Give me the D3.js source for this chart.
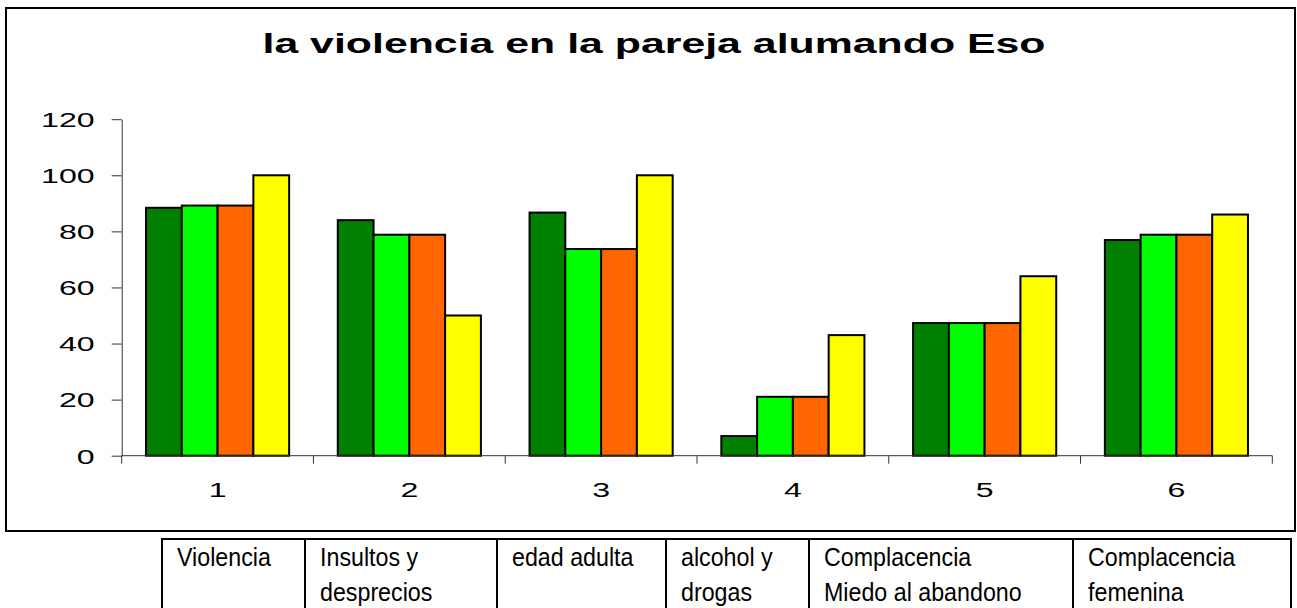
<!DOCTYPE html>
<html>
<head>
<meta charset="utf-8">
<script src="https://cdnjs.cloudflare.com/ajax/libs/d3/7.8.5/d3.min.js"></script>
<style>
    body { margin: 0; background: #ffffff; }
    svg { display: block; font-family: "Liberation Sans", Arial, sans-serif; }
</style>
</head>
<body>
<div id="chart"></div>
<script>
// data
var categories = ["1", "2", "3", "4", "5", "6"];
var seriesNames = ["serie1", "serie2", "serie3", "serie4"];
var serie1 = [88.4, 84.0, 86.7, 7.0, 47.3, 76.9];
var serie2 = [89.2, 78.8, 73.7, 21.0, 47.3, 78.8];
var serie3 = [89.2, 78.8, 73.7, 21.0, 47.3, 78.8];
var serie4 = [100, 50, 100, 43, 64, 86];
var yTicks = [0, 20, 40, 60, 80, 100, 120];
var tableLabels = [
    ["Violencia"],
    ["Insultos y", "desprecios"],
    ["edad adulta"],
    ["alcohol y", "drogas"],
    ["Complacencia", "Miedo al abandono"],
    ["Complacencia", "femenina"]
];
var titleText = "la violencia en la pareja alumando Eso";

// layout
var width = 1297, height = 608;
var plot = { left: 121.7, right: 1272.3, top: 119.2, bottom: 455.7 };
var stretch = 1.53; // chart text is drawn wide
var colors = ["#008000", "#00ff00", "#ff6600", "#ffff00"];
var tableEdges = [162, 305, 497, 666, 809, 1073, 1291];

var svg = d3.select("#chart")
    .append("svg")
    .attr("width", width)
    .attr("height", height);

// chart frame
svg.append("rect")
    .attr("x", 6)
    .attr("y", 8)
    .attr("width", 1289)
    .attr("height", 523)
    .attr("fill", "none")
    .attr("stroke", "#000")
    .attr("stroke-width", 2);

// title
svg.append("g")
    .attr("transform", "translate(654,53) scale(" + stretch + ",1)")
    .append("text")
    .attr("text-anchor", "middle")
    .style("font-size", "28px")
    .style("font-weight", "bold")
    .text(titleText);

var x = d3.scaleBand()
    .domain(categories)
    .range([plot.left, plot.right])
    .paddingInner(0)
    .paddingOuter(0);

var xSub = d3.scaleBand()
    .domain(seriesNames)
    .range([0, x.bandwidth()])
    .paddingInner(0)
    .paddingOuter(0.68);

var y = d3.scaleLinear()
    .domain([0, 120])
    .range([plot.bottom, plot.top]);

var rows = categories.map(function(c, i) {
    return {
        cat: c,
        values: [serie1[i], serie2[i], serie3[i], serie4[i]]
    };
});

// bars
var groups = svg.selectAll("g.cat")
    .data(rows)
    .enter()
    .append("g")
    .attr("class", "cat")
    .attr("transform", function(d) { return "translate(" + x(d.cat) + ",0)"; });

groups.selectAll("rect")
    .data(function(d) {
        return d.values.map(function(v, k) { return { key: seriesNames[k], value: v, k: k }; });
    })
    .enter()
    .append("rect")
    .attr("x", function(d) { return xSub(d.key); })
    .attr("y", function(d) { return y(d.value); })
    .attr("width", xSub.bandwidth())
    .attr("height", function(d) { return y(0) - y(d.value); })
    .attr("fill", function(d) { return colors[d.k]; })
    .attr("stroke", "#000")
    .attr("stroke-width", 2);

// y axis
var yAxis = svg.append("g")
    .attr("transform", "translate(" + plot.left + ",0)")
    .call(d3.axisLeft(y).tickValues(yTicks).tickSize(10).tickSizeOuter(0));
yAxis.select(".domain").attr("stroke", "#333");
yAxis.selectAll(".tick line").attr("stroke", "#333");
yAxis.selectAll(".tick text")
    .attr("x", 0)
    .attr("dy", "0.35em")
    .attr("transform", "translate(-27,0) scale(" + stretch + ",1)")
    .style("font-size", "21px")
    .attr("fill", "#000");

// x axis: ticks on the band edges
var xAxis = svg.append("g")
    .attr("transform", "translate(0," + plot.bottom + ")");
xAxis.append("line")
    .attr("x1", plot.left)
    .attr("x2", plot.right)
    .attr("stroke", "#333");
var edges = categories.map(function(c) { return x(c); }).concat([plot.right]);
xAxis.selectAll("line.edge")
    .data(edges)
    .enter()
    .append("line")
    .attr("class", "edge")
    .attr("x1", function(d) { return d; })
    .attr("x2", function(d) { return d; })
    .attr("y1", 0)
    .attr("y2", 8)
    .attr("stroke", "#333");
xAxis.selectAll("g.lbl")
    .data(categories)
    .enter()
    .append("g")
    .attr("class", "lbl")
    .attr("transform", function(d) {
        return "translate(" + (x(d) + x.bandwidth() / 2) + ",41) scale(" + stretch + ",1)";
    })
    .append("text")
    .attr("text-anchor", "middle")
    .style("font-size", "21px")
    .text(function(d) { return d; });

// table of labels below the chart
var table = svg.append("g");
table.append("line")
    .attr("x1", tableEdges[0] - 1)
    .attr("x2", tableEdges[tableEdges.length - 1] + 1)
    .attr("y1", 539)
    .attr("y2", 539)
    .attr("stroke", "#000")
    .attr("stroke-width", 2);
table.selectAll("line.col")
    .data(tableEdges)
    .enter()
    .append("line")
    .attr("class", "col")
    .attr("x1", function(d) { return d; })
    .attr("x2", function(d) { return d; })
    .attr("y1", 538)
    .attr("y2", height + 2)
    .attr("stroke", "#000")
    .attr("stroke-width", 2);

var cells = table.selectAll("g.cell")
    .data(tableLabels)
    .enter()
    .append("g")
    .attr("class", "cell")
    .attr("transform", function(d, i) {
        return "translate(" + (tableEdges[i] + 15) + ",566) scale(0.93,1)";
    });
cells.selectAll("text")
    .data(function(d) { return d; })
    .enter()
    .append("text")
    .attr("y", function(d, j) { return j * 35; })
    .style("font-size", "25px")
    .text(function(d) { return d; });
</script>
</body>
</html>
